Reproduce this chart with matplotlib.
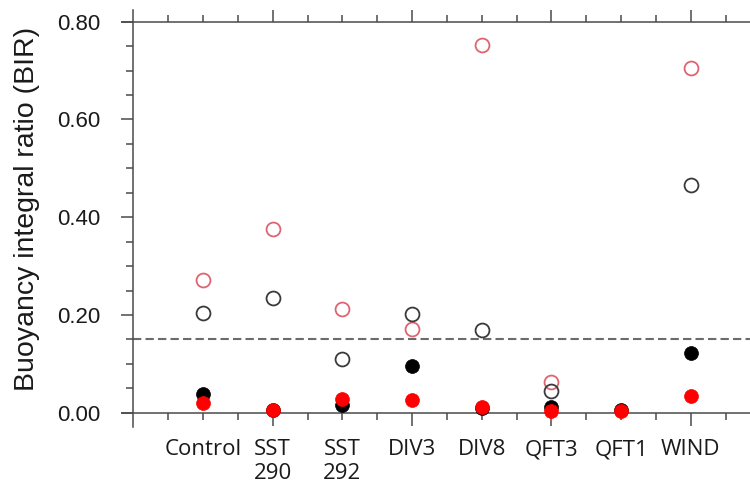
import matplotlib.pyplot as plt
import numpy as np
from matplotlib.ticker import FixedLocator, FormatStrFormatter

# ── Data ───────────────────────────────────────────────────────────────────
categories = ["Control", "SST\n290", "SST\n292", "DIV3", "DIV8", "QFT3", "QFT1", "WIND"]
open_red = [0.271, 0.377, 0.213, 0.172, 0.753, 0.063, np.nan, 0.706]
open_black = [0.204, 0.235, 0.110, 0.202, 0.169, 0.044, np.nan, 0.466]
filled_black = [0.039, 0.005, 0.016, 0.096, 0.010, 0.011, 0.006, 0.122]
filled_red = [0.020, 0.006, 0.028, 0.027, 0.011, 0.003, 0.003, 0.035]
threshold = 0.15
y_major = [0.0, 0.2, 0.4, 0.6, 0.8]

# ── Style ──────────────────────────────────────────────────────────────────
AXIS_COLOR = "#4a4a4a"
TEXT_COLOR = "#1a1a1a"
MAJOR_LEN, MINOR_LEN = 9.0, 5.0
X_MAX = 8.85

x = np.arange(1, len(categories) + 1)

fig = plt.figure(figsize=(7.5, 4.92), dpi=100)
ax = fig.add_axes([0.1627, 0.1321, 0.8373, 0.8476])
ax.set_xlim(-0.162, X_MAX)
ax.set_ylim(-0.029, 0.824)

# crossed SigmaPlot-like axes
ax.spines["right"].set_visible(False)
ax.spines["left"].set_position(("data", 0.0))
ax.spines["bottom"].set_position(("data", 0.0))
ax.spines["top"].set_position(("data", 0.8))
for s in ("left", "bottom", "top"):
    ax.spines[s].set_color(AXIS_COLOR)
    ax.spines[s].set_linewidth(1.1)

ax.hlines(threshold, 0.0, X_MAX, colors="#6b6b6b", lw=1.5,
          linestyles=(0, (4, 2)), zorder=1)

ax.plot(x, open_red, "o", ms=10, mfc="none", mec="#dd6470", mew=1.3, zorder=3)
ax.plot(x, open_black, "o", ms=10, mfc="none", mec="#3a3a3a", mew=1.3, zorder=3)
ax.plot(x, filled_black, "o", ms=10, mfc="black", mec="black", mew=0.5, zorder=4)
ax.plot(x, filled_red, "o", ms=10, mfc="#ff0000", mec="#ff0000", mew=0.5, zorder=5)

# x ticks: labels at each category, long marks every second one
ax.set_xticks(x, categories)
ax.xaxis.set_minor_locator(FixedLocator(np.arange(0.5, len(categories) + 1, 1.0)))
ax.tick_params(axis="x", which="both", direction="out", bottom=True, top=True,
               labeltop=False, color=AXIS_COLOR, width=1.1)
ax.tick_params(axis="x", which="major", length=MAJOR_LEN, pad=10,
               labelsize=16, labelcolor=TEXT_COLOR, labelfontfamily="Open Sans")
ax.tick_params(axis="x", which="minor", length=MINOR_LEN)
for i, t in enumerate(ax.xaxis.get_major_ticks()):
    if i % 2 == 0:
        t.tick1line.set_markersize(MINOR_LEN)
        t.tick2line.set_markersize(MINOR_LEN)

# y ticks
ax.yaxis.set_major_locator(FixedLocator(y_major))
ax.yaxis.set_minor_locator(FixedLocator(np.arange(0, 0.801, 0.05)))
ax.yaxis.set_major_formatter(FormatStrFormatter("%.2f"))
ax.tick_params(axis="y", which="both", direction="out", left=True, right=False,
               color=AXIS_COLOR, width=1.1)
ax.tick_params(axis="y", which="major", length=MAJOR_LEN, pad=15,
               labelsize=16, labelcolor=TEXT_COLOR, labelfontfamily="Liberation Sans")
ax.tick_params(axis="y", which="minor", length=MINOR_LEN)

fig.text(0.036, 0.575, "Buoyancy integral ratio (BIR)", rotation=90,
         ha="center", va="center", fontsize=20.5, color=TEXT_COLOR,
         family="Liberation Sans")

fig.savefig("out.png", dpi=100)
